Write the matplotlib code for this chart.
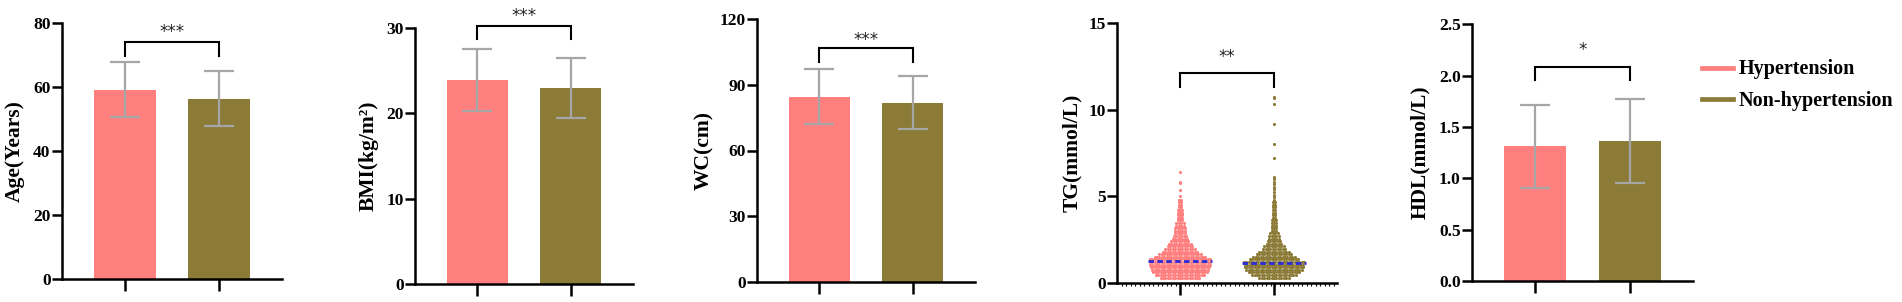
import numpy as np
import matplotlib
matplotlib.use("Agg")
import matplotlib.pyplot as plt
from matplotlib.lines import Line2D
from matplotlib.ticker import FixedLocator, FormatStrFormatter

# ---------------- data ----------------
groups = ["Hypertension", "Non-hypertension"]

age_mean = [59.2, 56.4]
age_sd = [8.6, 8.7]
bmi_mean = [23.9, 23.0]
bmi_sd = [3.65, 3.5]
wc_mean = [84.5, 81.9]
wc_sd = [12.5, 12.0]
hdl_mean = [1.31, 1.36]
hdl_sd = [0.40, 0.41]

# TG scatter (beeswarm): number of points in each value row
tg_levels = [0.30, 0.45, 0.60, 0.75, 0.90, 1.05, 1.20, 1.35, 1.50, 1.65,
             1.80, 1.95, 2.10, 2.25, 2.40, 2.55, 2.70, 2.85, 3.00, 3.15,
             3.30, 3.45, 3.60, 3.75, 3.90, 4.05, 4.20, 4.35, 4.50, 4.65,
             4.80, 4.95, 5.10, 5.25, 5.40, 5.55, 5.70, 5.85, 6.00]
tg_hyp_counts = [17, 21, 23, 24, 25, 26, 26, 26, 22, 18,
                 15, 13, 11, 10, 8, 7, 6, 5, 5, 5,
                 4, 4, 3, 3, 3, 3, 3, 2, 2, 2,
                 2, 0, 0, 0, 0, 0, 0, 0, 0]
tg_non_counts = [13, 19, 22, 24, 25, 25, 26, 21, 18, 15,
                 13, 10, 9, 7, 6, 5, 5, 4, 3, 3,
                 3, 3, 3, 2, 2, 2, 2, 2, 2, 2,
                 1, 1, 1, 1, 1, 1, 1, 1, 1]
tg_hyp_outliers = [5.0, 5.36, 5.74, 5.84, 6.42]
tg_non_outliers = [6.13, 7.19, 8.02, 9.15, 10.33, 10.66, 10.75]
tg_median = [1.27, 1.16]

ylabels = ["Age(Years)", "BMI(kg/m\u00b2)", "WC(cm)", "TG(mmol/L)", "HDL(mmol/L)"]
ymax = [80, 30, 120, 15, 2.5]
yticks = [[0, 20, 40, 60, 80], [0, 10, 20, 30], [0, 30, 60, 90, 120],
          [0, 5, 10, 15], [0.0, 0.5, 1.0, 1.5, 2.0, 2.5]]
significance = ["***", "***", "***", "**", "*"]
bracket_top = [74.1, 30.2, 106.6, 12.1, 2.08]
bracket_leg = [69.7, 28.7, 100.5, 11.33, 1.96]
star_y = [78.7, 32.0, 112.7, 13.35, 2.30]

# ---------------- style ----------------
plt.rcParams["font.family"] = ["Liberation Serif", "DejaVu Serif"]
plt.rcParams["font.weight"] = "bold"

PINK = "#FF7F7F"
OLIVE = "#8B7B37"
ERR = "#A6A6A6"
colors = [PINK, OLIVE]
LW = 1.8

W, H = 1902, 302
fig = plt.figure(figsize=(W / 100, H / 100), dpi=100)

# axes rectangles in pixels: left, right, top(ymax), bottom(0)
rects = [(62, 282, 23, 279), (415, 633, 28, 284), (757, 975, 19, 282),
         (1117, 1337, 23.3, 282.7), (1472, 1693, 24.3, 281)]
label_x = [15, 369, 704, 1072, 1420]

x = np.array([0.0, 1.0])
XL = (-0.67, 1.67)


def make_axes(i):
    l, r, t, b = rects[i]
    ax = fig.add_axes([l / W, 1 - b / H, (r - l) / W, (b - t) / H])
    ax.set_xlim(*XL)
    ax.set_ylim(0, ymax[i])
    for s in ["top", "right"]:
        ax.spines[s].set_visible(False)
    for s in ["left", "bottom"]:
        ax.spines[s].set_linewidth(LW)
    ax.set_xticks(x)
    ax.set_xticklabels([])
    ax.tick_params(axis="x", direction="out", length=8.6, width=LW)
    ax.set_yticks(yticks[i])
    ax.tick_params(axis="y", direction="out", length=7.2, width=LW, pad=1,
                   labelsize=12.5)
    for lab in ax.get_yticklabels():
        lab.set_fontweight("bold")
    ax.set_ylabel(ylabels[i], fontsize=15.5, fontweight="bold", va="center")
    ax.yaxis.set_label_coords((label_x[i] - l) / (r - l), 0.5)
    return ax


def bracket(ax, i):
    ax.plot([0, 0, 1, 1], [bracket_leg[i], bracket_top[i], bracket_top[i], bracket_leg[i]],
            color="black", lw=1.5, clip_on=False, solid_joinstyle="miter")
    ax.annotate(significance[i], xy=(0.5, star_y[i]), xytext=(0, -7.2),
                textcoords="offset points", ha="center", va="baseline",
                fontsize=12, color="#222222", family="DejaVu Sans",
                fontweight="normal", annotation_clip=False)


bar_data = {0: (age_mean, age_sd), 1: (bmi_mean, bmi_sd), 2: (wc_mean, wc_sd),
            4: (hdl_mean, hdl_sd)}

for i in range(5):
    ax = make_axes(i)
    if i in bar_data:
        m, sd = bar_data[i]
        ax.bar(x, m, width=0.66, color=colors, zorder=2)
        ax.errorbar(x, m, yerr=sd, fmt="none", ecolor=ERR, elinewidth=1.6,
                    capsize=10.8, capthick=1.6, zorder=3)
        if i == 4:
            ax.yaxis.set_major_formatter(FormatStrFormatter("%.1f"))
    else:
        dx = 2.4 / 93.0
        for g, (counts, outl) in enumerate([(tg_hyp_counts, tg_hyp_outliers),
                                            (tg_non_counts, tg_non_outliers)]):
            xs, ys = [], []
            for k, (lev, n) in enumerate(zip(tg_levels, counts)):
                if n <= 0:
                    continue
                off = (np.arange(n) - (n - 1) / 2.0) * dx
                xs.extend(x[g] + off)
                ys.extend([lev] * n)
            xs.extend([x[g]] * len(outl))
            ys.extend(outl)
            ax.scatter(xs, ys, s=5, color=colors[g], linewidths=0, zorder=2)
            ax.plot([x[g] - 0.34, x[g] + 0.34], [tg_median[g]] * 2, color="#2B2BD9",
                    lw=2.0, ls=(0, (2.0, 1.2)), zorder=3)
        ax.xaxis.set_minor_locator(FixedLocator(np.arange(-0.62, 1.67, 0.048)))
        ax.tick_params(axis="x", which="minor", direction="out", length=2.2, width=0.8)
    bracket(ax, i)

# legend (manual, figure pixel coordinates)
leg_rows = [(PINK, 67.7, 74.0, groups[0]), (OLIVE, 99.3, 106.0, groups[1])]
for col, ly, ty, txt in leg_rows:
    fig.add_artist(Line2D([1702 / W, 1733 / W], [1 - ly / H, 1 - ly / H],
                          transform=fig.transFigure, color=col, lw=3.4))
    fig.text(1739 / W, 1 - ty / H, txt, fontsize=14.5, fontweight="bold",
             ha="left", va="baseline")

fig.savefig("out.png", dpi=100)
